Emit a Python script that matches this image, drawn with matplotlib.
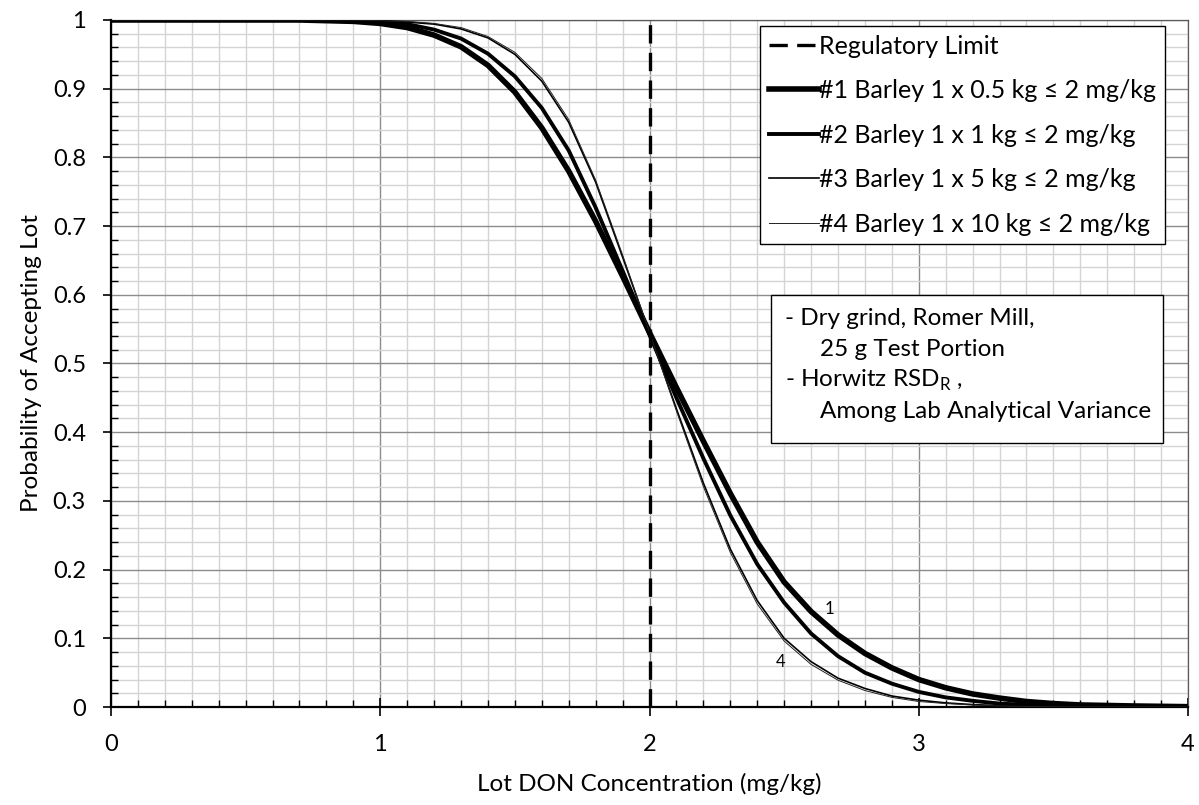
import matplotlib
matplotlib.use("Agg")
import matplotlib.pyplot as plt
from matplotlib.ticker import MultipleLocator, FuncFormatter
from matplotlib.lines import Line2D
from matplotlib.patches import Rectangle

plt.rcParams['font.family'] = ['Lato', 'DejaVu Sans']

# ---- data ----
conc = [0, 0.5, 0.7, 0.8, 0.9, 1.0, 1.1, 1.2, 1.3, 1.4, 1.5, 1.6, 1.7, 1.8, 1.9,
        2.0, 2.1, 2.2, 2.3, 2.4, 2.5, 2.6, 2.7, 2.8, 2.9, 3.0, 3.1, 3.2, 3.3, 3.4,
        3.5, 3.6, 3.8, 4.0]

barley_05kg = [1.0, 1.0, 1.0, 0.999, 0.998, 0.995, 0.989, 0.978, 0.961, 0.934,
               0.895, 0.843, 0.780, 0.707, 0.627, 0.545, 0.465, 0.387, 0.311,
               0.240, 0.182, 0.139, 0.105, 0.078, 0.057, 0.040, 0.028, 0.019,
               0.013, 0.008, 0.005, 0.003, 0.0015, 0.0005]

barley_1kg = [1.0, 1.0, 1.0, 1.0, 0.999, 0.997, 0.994, 0.986, 0.973, 0.951,
              0.918, 0.872, 0.810, 0.727, 0.635, 0.542, 0.450, 0.362, 0.279,
              0.208, 0.152, 0.107, 0.074, 0.050, 0.034, 0.022, 0.014, 0.009,
              0.005, 0.003, 0.002, 0.001, 0.0004, 0.0001]

barley_5kg = [1.0, 1.0, 1.0, 1.0, 1.0, 0.999, 0.997, 0.994, 0.987, 0.974,
              0.950, 0.911, 0.851, 0.764, 0.655, 0.545, 0.434, 0.326, 0.230,
              0.155, 0.100, 0.066, 0.042, 0.027, 0.016, 0.010, 0.006, 0.0035,
              0.002, 0.001, 0.0005, 0.0003, 0.0001, 0.0]

barley_10kg = [1.0, 1.0, 1.0, 1.0, 1.0, 0.999, 0.998, 0.995, 0.989, 0.976,
               0.953, 0.915, 0.855, 0.767, 0.658, 0.545, 0.431, 0.321, 0.225,
               0.150, 0.096, 0.062, 0.039, 0.024, 0.014, 0.008, 0.005, 0.003,
               0.0015, 0.0008, 0.0004, 0.0002, 0.0001, 0.0]

regulatory_limit = 2.0

series_labels = ["#1 Barley 1 x 0.5 kg \u2264 2 mg/kg",
                 "#2 Barley 1 x 1 kg \u2264 2 mg/kg",
                 "#3 Barley 1 x 5 kg \u2264 2 mg/kg",
                 "#4 Barley 1 x 10 kg \u2264 2 mg/kg"]
limit_label = "Regulatory Limit"
x_title = "Lot DON Concentration (mg/kg)"
y_title = "Probability of Accepting Lot"
note_lines = ["- Dry grind, Romer Mill,",
              "25 g Test Portion",
              "- Horwitz RSD$_\\mathregular{R}$ ,",
              "Among Lab Analytical Variance"]

# ---- figure ----
W, H = 1199, 805
fig = plt.figure(figsize=(W / 100, H / 100), dpi=100)
ax = fig.add_axes([111 / W, 1 - 707 / H, (1188 - 111) / W, (707 - 20) / H])

ax.set_xlim(0, 4)
ax.set_ylim(0, 1)

ax.xaxis.set_major_locator(MultipleLocator(1))
ax.xaxis.set_minor_locator(MultipleLocator(0.1))
ax.yaxis.set_major_locator(MultipleLocator(0.1))
ax.yaxis.set_minor_locator(MultipleLocator(0.02))

ax.yaxis.set_major_formatter(FuncFormatter(lambda v, p: "%g" % round(v, 2)))
ax.xaxis.set_major_formatter(FuncFormatter(lambda v, p: "%g" % round(v, 2)))

ax.grid(which='minor', color='#d4d4d4', linewidth=1.0)
ax.grid(which='major', color='#8c8c8c', linewidth=1.0)
ax.set_axisbelow(True)

for s in ['top', 'right']:
    ax.spines[s].set_color('#595959')
    ax.spines[s].set_linewidth(0.9)
for s in ['left', 'bottom']:
    ax.spines[s].set_color('black')
    ax.spines[s].set_linewidth(1.6)

ax.tick_params(axis='y', which='major', direction='out', length=6, width=1.2,
               labelsize=17, pad=12)
ax.tick_params(axis='x', which='major', direction='inout', length=13, width=1.2,
               labelsize=17, pad=13)
ax.tick_params(which='minor', direction='in', length=5, width=1.0)

ax.set_xlabel(x_title, fontsize=17.5, labelpad=13)
ax.set_ylabel(y_title, fontsize=17.5, labelpad=8)

# ---- curves ----
ax.plot(conc, barley_05kg, color='black', lw=4.0, solid_capstyle='butt',
        solid_joinstyle='round', zorder=3)
ax.plot(conc, barley_1kg, color='black', lw=2.8, solid_capstyle='butt',
        solid_joinstyle='round', zorder=3)
ax.plot(conc, barley_5kg, color='black', lw=1.2, zorder=3)
ax.plot(conc, barley_10kg, color='#222222', lw=0.7, zorder=3)
ax.axvline(regulatory_limit, color='black', lw=2.4, dashes=(5.5, 2.8), zorder=4)

ax.text(2.67, 0.142, "1", fontsize=12, ha='center', va='center')
ax.text(2.485, 0.066, "4", fontsize=12, ha='center', va='center')

# ---- legend ----
handles = [
    Line2D([], [], color='black', lw=2.4, dashes=(5.5, 2.8)),
    Line2D([], [], color='black', lw=4.0),
    Line2D([], [], color='black', lw=2.8),
    Line2D([], [], color='black', lw=1.2),
    Line2D([], [], color='#222222', lw=0.7),
]
leg = ax.legend(handles, [limit_label] + series_labels,
                loc='upper left', bbox_to_anchor=((760 - 111) / 1077, (707 - 26) / 687),
                fontsize=18, frameon=True, fancybox=False, shadow=False,
                handlelength=2.0, handletextpad=0.0, labelspacing=0.86,
                borderpad=0.35, borderaxespad=0.0)
leg.get_frame().set_edgecolor('black')
leg.get_frame().set_linewidth(1.0)
leg.get_frame().set_alpha(1.0)
leg.set_zorder(10)

# ---- note box ----
bx0, bx1 = (771 - 111) / 1077, (1163 - 111) / 1077
by0, by1 = (707 - 443) / 687, (707 - 295) / 687
ax.add_patch(Rectangle((bx0, by0), bx1 - bx0, by1 - by0, transform=ax.transAxes,
                       facecolor='white', edgecolor='black', lw=1.0, zorder=9))
line_y_px = [318, 349, 380, 411]
line_x_px = [785, 820, 785, 820]
for txt, xpx, ypx in zip(note_lines, line_x_px, line_y_px):
    ax.text((xpx - 111) / 1077, (707 - ypx) / 687, txt, transform=ax.transAxes,
            fontsize=17.5, ha='left', va='center', zorder=11)

fig.savefig("out.png", dpi=100)
